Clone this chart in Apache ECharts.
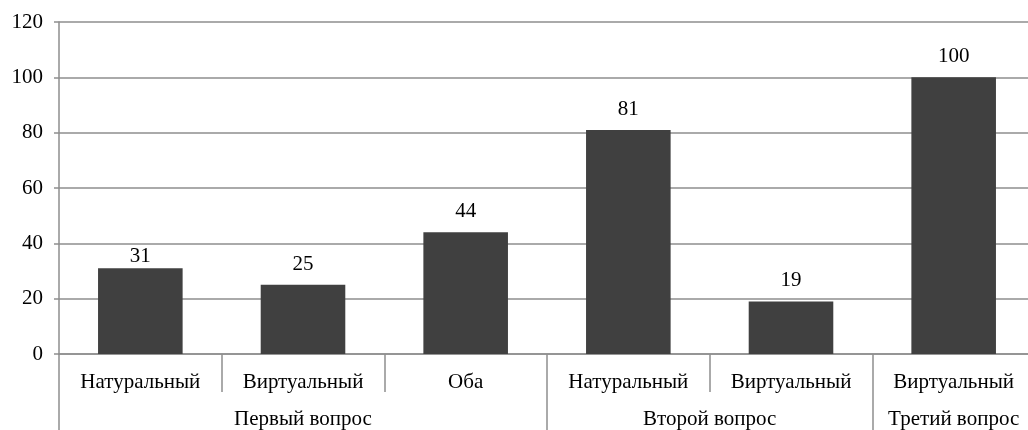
<!DOCTYPE html>
<html>
<head>
<meta charset="utf-8">
<script src="https://cdn.jsdelivr.net/npm/echarts@6/dist/echarts.min.js"></script>
<style>
  html, body { margin: 0; padding: 0; background: #fff; }
  #chart { width: 1028px; height: 430px; }
</style>
</head>
<body>
<div id="chart"></div>
<script>
// Answer types per question
const categories = ['Натуральный', 'Виртуальный', 'Оба', 'Натуральный', 'Виртуальный', 'Виртуальный'];
const values = [31, 25, 44, 81, 19, 100];
// Question groups and how many answer columns each covers
const groups = ['Первый вопрос', 'Второй вопрос', 'Третий вопрос'];
const groupSizes = [3, 2, 1];
const yTicks = [0, 20, 40, 60, 80, 100, 120];

// Boundaries and centres of the groups along the lower axis (in column units)
const groupEdges = [0];
const groupCenters = [];
groupSizes.forEach(function (n) {
  const start = groupEdges[groupEdges.length - 1];
  groupCenters.push(start + n / 2);
  groupEdges.push(start + n);
});

const FONT = "'Liberation Serif', serif";
const FONT_SIZE = 21;
const GRID_COLOR = '#8e8e8e';

// The first value label sits a little closer to its bar than the others
const barData = values.map(function (v, i) {
  return i === 0 ? { value: v, label: { distance: 1 } } : v;
});

const chart = echarts.init(document.getElementById('chart'), null, { renderer: 'canvas' });
chart.setOption({
  animation: false,
  backgroundColor: '#fff',
  textStyle: { fontFamily: FONT },
  grid: { left: 59, width: 976, top: 22, bottom: 76, containLabel: false, outerBoundsMode: 'none' },
  xAxis: [
    {
      type: 'category',
      data: categories,
      position: 'bottom',
      axisLine: { show: true, lineStyle: { color: GRID_COLOR, width: 1.5 } },
      axisTick: { show: true, interval: 0, length: 38, lineStyle: { color: GRID_COLOR, width: 1.5 } },
      axisLabel: { interval: 0, margin: 18, color: '#000', fontFamily: FONT, fontSize: FONT_SIZE }
    },
    {
      type: 'value',
      min: 0,
      max: categories.length,
      position: 'bottom',
      offset: 0,
      axisLine: { show: false },
      splitLine: { show: false },
      axisTick: {
        show: true,
        length: 78,
        customValues: groupEdges.slice(0, groupEdges.length - 1),
        lineStyle: { color: GRID_COLOR, width: 1.5 }
      },
      axisLabel: {
        show: true,
        customValues: groupCenters,
        margin: 55,
        color: '#000',
        fontFamily: FONT,
        fontSize: FONT_SIZE,
        formatter: function (v) {
          const i = groupCenters.findIndex(function (c) { return Math.abs(c - v) < 1e-6; });
          return i >= 0 ? groups[i] : '';
        }
      }
    }
  ],
  yAxis: {
    type: 'value',
    min: yTicks[0],
    max: yTicks[yTicks.length - 1],
    interval: yTicks[1] - yTicks[0],
    axisLine: { show: true, lineStyle: { color: GRID_COLOR, width: 1.5 } },
    axisTick: { show: true, length: 5, lineStyle: { color: GRID_COLOR, width: 1.5 } },
    splitLine: { show: true, lineStyle: { color: GRID_COLOR, width: 1.5 } },
    axisLabel: { margin: 16, color: '#000', fontFamily: FONT, fontSize: FONT_SIZE }
  },
  series: [
    {
      type: 'bar',
      xAxisIndex: 0,
      data: barData,
      barWidth: '52%',
      itemStyle: { color: '#404040' },
      label: {
        show: true,
        position: 'top',
        distance: 10,
        color: '#000',
        fontFamily: FONT,
        fontSize: FONT_SIZE
      }
    }
  ]
});
</script>
</body>
</html>
